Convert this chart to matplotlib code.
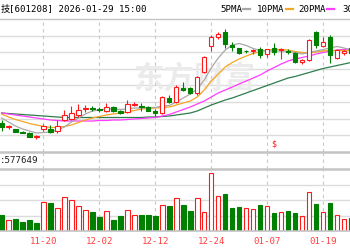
import numpy as np
import matplotlib
matplotlib.use("Agg")
import matplotlib.pyplot as plt
from matplotlib.patches import Rectangle

# trading days shown (index 0 = 11-20)
dates = ["11-12", "11-13", "11-14", "11-17", "11-18", "11-19", "11-20", "11-21", "11-24", "11-25",
         "11-26", "11-27", "11-28", "12-01", "12-02", "12-03", "12-04", "12-05", "12-08", "12-09",
         "12-10", "12-11", "12-12", "12-15", "12-16", "12-17", "12-18", "12-19", "12-22", "12-23",
         "12-24", "12-25", "12-26", "12-29", "12-30", "12-31", "01-05", "01-06", "01-07", "01-08",
         "01-09", "01-12", "01-13", "01-14", "01-15", "01-16", "01-19", "01-20", "01-21", "01-22",
         "01-23"]
tick_dates = ["11-20", "12-02", "12-12", "12-24", "01-07", "01-19"]

opens = [12.70, 12.33, 12.07, 11.80, 11.75, 11.32, 12.10, 12.15, 11.95, 13.00,
         13.10, 13.50, 14.13, 14.18, 14.08, 13.93, 14.27, 13.90, 13.80, 14.54,
         14.38, 14.27, 13.90, 13.70, 15.17, 14.83, 16.17, 16.23, 15.67, 17.83,
         20.40, 21.30, 21.85, 20.55, 20.17, 19.95, 19.90, 20.07, 19.60, 20.17,
         20.00, 19.87, 19.75, 18.83, 19.00, 21.83, 20.40, 21.33, 19.17, 19.67,
         20.17]
closes = [12.30, 12.37, 11.85, 11.75, 11.35, 11.37, 12.43, 11.80, 12.40, 13.50,
          13.70, 14.00, 14.18, 14.13, 14.03, 14.33, 13.93, 13.67, 14.60, 14.60,
          14.32, 13.95, 13.73, 15.30, 14.83, 16.33, 16.00, 15.73, 17.30, 19.30,
          21.30, 21.65, 20.62, 20.35, 19.70, 19.88, 19.97, 19.55, 20.07, 19.80,
          20.07, 19.81, 18.85, 19.05, 21.05, 20.50, 20.83, 19.50, 20.00, 19.95,
          19.67]
highs = [13.00, 12.55, 12.15, 11.90, 11.80, 11.55, 12.60, 12.50, 13.00, 14.00,
         14.40, 14.60, 14.50, 14.45, 14.30, 14.73, 14.40, 14.05, 15.00, 14.85,
         14.73, 14.40, 14.10, 15.40, 15.50, 16.50, 16.83, 16.35, 17.40, 19.40,
         21.50, 21.83, 22.15, 20.80, 20.25, 20.05, 20.15, 20.30, 20.15, 20.67,
         20.23, 20.10, 19.85, 19.15, 21.15, 21.90, 21.33, 21.50, 20.10, 20.05,
         20.40]
lows = [11.90, 12.10, 11.80, 11.70, 11.30, 11.10, 11.95, 11.75, 11.70, 12.90,
        13.00, 13.33, 13.85, 13.90, 13.85, 13.85, 13.85, 13.60, 13.70, 14.40,
        13.93, 13.90, 13.40, 13.65, 14.75, 14.70, 15.95, 15.65, 15.55, 17.70,
        19.95, 21.15, 20.20, 19.95, 19.65, 19.67, 19.60, 19.20, 19.27, 19.50,
        19.10, 19.65, 18.67, 18.60, 18.90, 20.17, 20.30, 18.75, 19.10, 19.55,
        19.50]
volumes = [157000, 110000, 120000, 93000, 110000, 83000, 290000, 277000, 227000, 337000,
           310000, 253000, 207000, 190000, 140000, 200000, 110000, 147000, 210000, 163000,
           157000, 157000, 147000, 257000, 247000, 327000, 257000, 203000, 327000, 190000,
           577649, 353000, 370000, 227000, 240000, 227000, 217000, 257000, 247000, 180000,
           187000, 200000, 180000, 147000, 387000, 267000, 187000, 280000, 157000, 120000,
           130000]
vol_up = [0, 1, 0, 0, 0, 0, 1, 0, 1, 1,
          1, 1, 1, 0, 0, 1, 0, 0, 1, 1,
          0, 0, 0, 1, 0, 1, 0, 0, 1, 1,
          1, 1, 0, 0, 0, 1, 1, 0, 1, 0,
          1, 0, 0, 1, 1, 0, 1, 0, 1, 1,
          0]
ma5 = [13.20, 12.80, 12.40, 12.10, 11.90, 11.70, 11.75, 11.80, 12.00, 12.30,
       12.80, 13.20, 13.60, 13.90, 14.00, 14.10, 14.10, 14.05, 14.10, 14.20,
       14.20, 14.25, 14.25, 14.40, 14.45, 14.80, 15.20, 15.60, 16.10, 17.00,
       18.20, 19.20, 20.00, 20.50, 20.65, 20.45, 20.15, 19.95, 19.90, 19.90,
       19.90, 19.85, 19.75, 19.60, 19.75, 19.90, 20.05, 20.20, 20.35, 20.20,
       20.00]
ma10 = [13.60, 13.30, 13.05, 12.85, 12.65, 12.50, 12.35, 12.25, 12.25, 12.35,
        12.50, 12.75, 13.00, 13.20, 13.35, 13.50, 13.60, 13.70, 13.80, 13.95,
        14.10, 14.15, 14.20, 14.25, 14.30, 14.50, 14.70, 14.90, 15.30, 16.00,
        16.90, 17.60, 18.30, 18.75, 19.10, 19.40, 19.65, 19.85, 20.00, 20.05,
        20.05, 20.00, 19.85, 19.75, 19.70, 19.80, 19.90, 19.95, 19.95, 19.95,
        19.95]
ma20 = [13.70, 13.60, 13.50, 13.40, 13.30, 13.20, 13.10, 13.00, 12.95, 12.90,
        12.90, 12.90, 12.90, 12.90, 12.95, 12.95, 13.00, 13.00, 13.05, 13.10,
        13.15, 13.20, 13.25, 13.40, 13.55, 13.80, 14.05, 14.30, 14.60, 14.90,
        15.30, 15.70, 16.00, 16.30, 16.60, 16.90, 17.20, 17.50, 17.90, 18.25,
        18.60, 18.90, 19.10, 19.25, 19.40, 19.60, 19.75, 19.90, 20.00, 20.05,
        20.10]
ma30 = [13.70, 13.65, 13.60, 13.55, 13.50, 13.45, 13.40, 13.35, 13.30, 13.25,
        13.25, 13.25, 13.25, 13.25, 13.25, 13.25, 13.25, 13.25, 13.25, 13.25,
        13.25, 13.30, 13.30, 13.35, 13.40, 13.50, 13.60, 13.70, 13.90, 14.20,
        14.50, 14.75, 15.00, 15.20, 15.45, 15.70, 15.95, 16.20, 16.45, 16.70,
        16.95, 17.20, 17.35, 17.55, 17.75, 17.95, 18.15, 18.30, 18.45, 18.60,
        18.75]

RED = "#ff1a1a"
GREEN = "#008000"
GRID = "#dcdcdc"
BORDER = "#c4c4c4"
VDASH = "#c8c8c8"
MONO = ["DejaVu Sans Mono", "Noto Sans CJK SC"]

W, H = 350, 250
fig = plt.figure(figsize=(3.5, 2.5), dpi=100)


def box(top, bottom):
    # pixel rows -> figure rect
    return [0, 1 - bottom / H, 1, (bottom - top) / H]


x = np.arange(len(dates)) - dates.index("11-20")
xlim = (-6.22, 43.85)
tick_x = [x[dates.index(d)] for d in tick_dates]

# price panel
ax = fig.add_axes(box(19, 151.8))
ax.set_xlim(*xlim)
ax.set_ylim(9.82, 23.1)
ax.axis("off")
for k in range(1, 8):
    ax.axhline(23.1 - 1.66 * k, color=GRID, lw=1, zorder=0)
for tx in tick_x:
    ax.axvline(tx, color=VDASH, lw=0.8, ls=(0, (3, 3)), zorder=0)

# watermark
ax.text(21.5, 17.1, "东方财富", fontsize=22, color="#ebebeb", fontweight="bold",
        family=["Noto Sans CJK SC"], ha="center", va="center", zorder=1)

ax.plot(x, ma30, color="#2e7d4f", lw=0.9, zorder=2)
ax.plot(x, ma20, color="#ff3cff", lw=0.9, zorder=2)
ax.plot(x, ma10, color="#f5a623", lw=0.9, zorder=2)
ax.plot(x, ma5, color="#a8a8a8", lw=0.9, zorder=2)

w = 0.62
for xi, o, c, h, l in zip(x, opens, closes, highs, lows):
    up = c >= o
    col = RED if up else GREEN
    lo, hi = min(o, c), max(o, c)
    ax.vlines(xi, hi, h, color=col, lw=0.8, zorder=3)
    ax.vlines(xi, l, lo, color=col, lw=0.8, zorder=3)
    ax.add_patch(Rectangle((xi - w / 2, lo), w, max(hi - lo, 0.01),
                           facecolor="white" if up else GREEN, edgecolor=col,
                           lw=0.8, zorder=4))

ax.text(x[dates.index("01-08")], 10.55, "$", color=RED, fontsize=6,
        family=MONO, ha="center", va="center")

# volume header row
axh = fig.add_axes(box(151.8, 168.5))
axh.set_xlim(*xlim)
axh.set_ylim(0, 1)
axh.axis("off")
for tx in tick_x:
    axh.axvline(tx, color=VDASH, lw=0.8, ls=(0, (3, 3)), zorder=0)
axh.text(0.0, 0.45, ":577649", transform=axh.transAxes, fontsize=6.6,
         family=MONO, color="#222222", ha="left", va="center")

# volume panel
axv = fig.add_axes(box(169.5, 231))
axv.set_xlim(*xlim)
axv.set_ylim(0, 615000)
axv.axis("off")
for k in range(1, 4):
    axv.axhline(615000 * k / 4, color=GRID, lw=1, zorder=0)
for tx in tick_x:
    axv.axvline(tx, color=VDASH, lw=0.8, ls=(0, (3, 3)), zorder=0)
vface = ["white" if u else GREEN for u in vol_up]
vedge = [RED if u else GREEN for u in vol_up]
axv.bar(x, volumes, width=0.64, color=vface, edgecolor=vedge, lw=0.8, zorder=2)

for tx, d in zip(tick_x, tick_dates):
    axv.text(tx, -0.165, d, transform=axv.get_xaxis_transform(), color="#ff4040",
             fontsize=6.6, family=MONO, ha="center", va="center", clip_on=False)

# frame lines
for yy, lw, col in [(19, 1.0, BORDER), (151.8, 1.8, BORDER), (168.5, 1.8, BORDER),
                    (231, 1.2, BORDER)]:
    fig.add_artist(plt.Line2D([0, 1], [1 - yy / H, 1 - yy / H], color=col, lw=lw))

# title and legend
fig.text(9.5 / W, 1 - 9 / H, "技", fontsize=6.6, family=["Noto Sans CJK SC"],
         ha="right", va="center")
fig.text(9 / W, 1 - 9 / H, "[601208] 2026-01-29 15:00", fontsize=6.6, family=MONO,
         ha="left", va="center")

legend_items = [("5PMA", 220, "#a8a8a8"), ("10PMA", 257, "#f5a623"),
                ("20PMA", 298, "#ff3cff"), ("30PMA", 342, "#2e7d4f")]
for name, px, col in legend_items:
    fig.text(px / W, 1 - 9 / H, name, fontsize=6.6, family=MONO,
             ha="left", va="center")
    end = px + 5.3 * len(name) + 2
    fig.add_artist(plt.Line2D([end / W, (end + 7) / W], [1 - 9 / H, 1 - 9 / H],
                              color=col, lw=1.6))

fig.savefig("out.png", dpi=100, facecolor="white")
